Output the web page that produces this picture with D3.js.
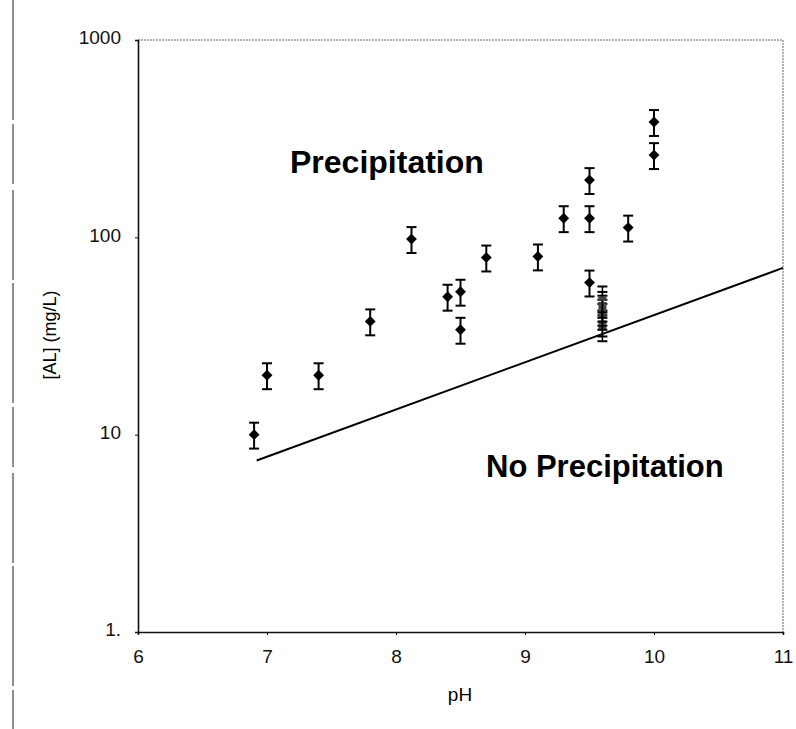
<!DOCTYPE html>
<html>
<head>
<meta charset="utf-8">
<script src="https://cdn.jsdelivr.net/npm/d3@7"></script>
<style>
  body { margin: 0; background: #fff; }
  text { font-family: "Liberation Sans", Arial, sans-serif; }
</style>
</head>
<body>
<svg id="graphic" width="796" height="729"></svg>
<script>
// measured points (pH, [Al] mg/L)
const ph = [6.9, 7.0, 7.4, 7.8, 8.12, 8.4, 8.5, 8.5, 8.7, 9.1, 9.3, 9.5, 9.5, 9.5, 9.8, 10.0, 10.0];
const al = [10, 20, 20, 37.5, 98, 50, 53, 34, 79, 80, 125, 195, 125, 59, 112, 261, 384];

// crowded column of samples at pH 9.6
const clusterPh = [9.6, 9.6, 9.6, 9.6, 9.6, 9.6, 9.6];
const clusterAl = [35, 37, 40, 42, 44, 46, 49];

// solubility boundary
const linePh = [6.92, 11];
const lineAl = [7.4, 70];

const errFrac = 0.15;

const xTicks = [6, 7, 8, 9, 10, 11];
const yTicks = [1, 10, 100, 1000];

const margin = { left: 138, top: 40, right: 13, bottom: 97 };
const width = 796, height = 729;

const svg = d3.select('#graphic');

const xScale = d3.scaleLinear()
    .domain([6, 11])
    .range([margin.left, width - margin.right]);

const yScale = d3.scaleLog()
    .domain([1, 1000])
    .range([height - margin.bottom, margin.top]);

// scan edge line on the far left
svg.append('line')
    .attr('x1', 13).attr('x2', 13)
    .attr('y1', 0).attr('y2', height)
    .attr('stroke', '#444')
    .attr('stroke-width', 1.2)
    .attr('stroke-dasharray', '120,4,60,6,90,3');

// faint top/right frame
svg.append('path')
    .attr('d', `M${xScale(6)},${yScale(1000)}H${xScale(11)}V${yScale(1)}`)
    .attr('fill', 'none')
    .attr('stroke', '#666')
    .attr('stroke-width', 1)
    .attr('stroke-dasharray', '2,1');

let xAxis = d3.axisBottom(xScale)
    .tickValues(xTicks)
    .tickSize(3)
    .tickPadding(15)
    .tickFormat(d3.format('d'));

let yAxis = d3.axisLeft(yScale)
    .tickValues(yTicks)
    .tickSize(3)
    .tickPadding(14)
    .tickFormat(d => d === 1 ? '1.' : d);

const gx = svg.append('g')
    .attr('transform', `translate(0, ${yScale(1)})`)
    .call(xAxis);
const gy = svg.append('g')
    .attr('transform', `translate(${xScale(6)}, 0)`)
    .call(yAxis);

[gx, gy].forEach(g => {
    g.select('.domain').attr('stroke', '#111').attr('stroke-width', 1.6);
    g.selectAll('.tick line').attr('stroke', '#111');
    g.selectAll('.tick text')
        .attr('fill', '#111')
        .attr('font-size', 19)
        .style('font-size', '19px');
});
gy.selectAll('.tick text').attr('dy', '0.2em');

// boundary line
svg.append('line')
    .attr('x1', xScale(linePh[0])).attr('y1', yScale(lineAl[0]))
    .attr('x2', xScale(linePh[1])).attr('y2', yScale(lineAl[1]))
    .attr('stroke', '#000')
    .attr('stroke-width', 2);

const pts = ph.map((p, i) => ({ ph: p, al: al[i] }));
const cluster = clusterPh.map((p, i) => ({ ph: p, al: clusterAl[i] }));

function drawErr(sel, data, sw) {
    const g = sel.selectAll(null)
        .data(data)
        .enter()
        .append('g');
    g.append('line')
        .attr('x1', d => xScale(d.ph)).attr('x2', d => xScale(d.ph))
        .attr('y1', d => yScale(d.al * (1 + errFrac)))
        .attr('y2', d => yScale(d.al * (1 - errFrac)))
        .attr('stroke', '#000').attr('stroke-width', sw);
    [1 + errFrac, 1 - errFrac].forEach(f => {
        g.append('line')
            .attr('x1', d => xScale(d.ph) - 5).attr('x2', d => xScale(d.ph) + 5)
            .attr('y1', d => yScale(d.al * f)).attr('y2', d => yScale(d.al * f))
            .attr('stroke', '#000').attr('stroke-width', 2);
    });
    return g;
}

drawErr(svg, cluster, 1.5)
    .append('rect')
    .attr('x', d => xScale(d.ph) - 4)
    .attr('y', d => yScale(d.al) - 2)
    .attr('width', 8).attr('height', 4)
    .attr('fill', '#444');

drawErr(svg, pts, 2)
    .append('path')
    .attr('d', d3.symbol(d3.symbolDiamond2, 75))
    .attr('transform', d => `translate(${xScale(d.ph)}, ${yScale(d.al)})`)
    .attr('fill', '#000');

// region labels
svg.append('text')
    .attr('x', 290).attr('y', 173)
    .style('font-size', '32px').style('font-weight', 'bold')
    .text('Precipitation');
svg.append('text')
    .attr('x', 486).attr('y', 477)
    .style('font-size', '31px').style('font-weight', 'bold')
    .text('No Precipitation');

// axis titles
svg.append('text')
    .attr('x', 460)
    .attr('y', 701)
    .attr('text-anchor', 'middle')
    .style('font-size', '19px')
    .text('pH');
svg.append('text')
    .attr('transform', `translate(56, ${yScale(32)}) rotate(-90)`)
    .attr('text-anchor', 'middle')
    .style('font-size', '18px')
    .text('[AL] (mg/L)');
</script>
</body>
</html>
